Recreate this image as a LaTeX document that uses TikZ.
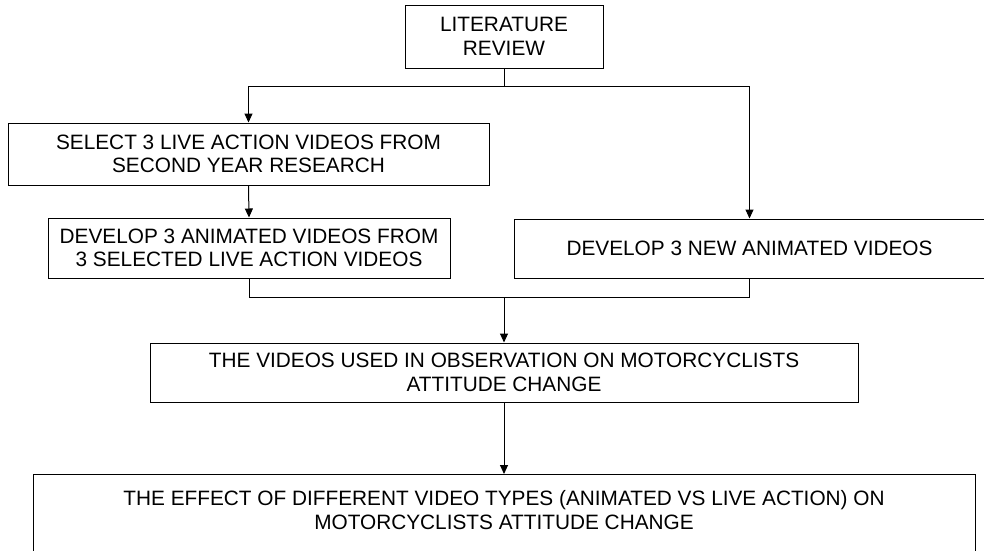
\documentclass[tikz,border=0pt]{standalone}
\usepackage{fontspec}
\setmainfont{Liberation Sans}
\usetikzlibrary{arrows.meta}
\tikzset{
  box/.style={draw=black, line width=1pt, rectangle, inner sep=0pt, align=center,
    font=\fontsize{20.8}{23.4}\selectfont},
  txt/.style={inner sep=0pt, align=center, font=\fontsize{20.8}{23.4}\selectfont},
  link/.style={draw=black, line width=1pt},
  arr/.style={link, -{Triangle[length=9pt, width=8pt]}}
}
\begin{document}
\begin{tikzpicture}[x=1pt, y=-1pt]
  \useasboundingbox (0,0) rectangle (984,550);

  % process boxes
  \node[box, minimum width=198pt, minimum height=63pt] (lit) at (504,36.5)
    {LITERATURE\\REVIEW};
  \node[box, minimum width=481pt, minimum height=62pt] (sel) at (248.5,154)
    {SELECT 3 LIVE ACTION VIDEOS FROM\\SECOND YEAR RESEARCH};
  \node[box, minimum width=402pt, minimum height=60pt] (dan) at (249,248)
    {DEVELOP 3 ANIMATED VIDEOS FROM\\3 SELECTED LIVE ACTION VIDEOS};
  \node[box, minimum width=471pt, minimum height=59pt] (dnew) at (749.5,248.5)
    {DEVELOP 3 NEW ANIMATED VIDEOS};
  \node[box, minimum width=708pt, minimum height=59pt] (obs) at (504,372.5)
    {THE VIDEOS USED IN OBSERVATION ON MOTORCYCLISTS\\ATTITUDE CHANGE};
  \node[box, minimum width=942pt, minimum height=90pt, anchor=north] (eff) at (504,474) {};
  \node[txt] (efftext) at (504,510)
    {THE EFFECT OF DIFFERENT VIDEO TYPES (ANIMATED VS LIVE ACTION) ON\\MOTORCYCLISTS ATTITUDE CHANGE};

  % junction points
  \coordinate (split) at (504,86);
  \coordinate (merge) at (504,297);

  % connectors
  \draw[link] (lit.south) -- (split);
  \draw[arr] (split) -| (sel.north);
  \draw[arr] (split) -| (dnew.north);
  \draw[arr] (sel.south) -- (dan.north);
  \draw[link] (dan.south) |- (merge);
  \draw[link] (dnew.south) |- (merge);
  \draw[arr] (merge) -- (obs.north);
  \draw[arr] (obs.south) -- (eff.north);
\end{tikzpicture}
\end{document}
